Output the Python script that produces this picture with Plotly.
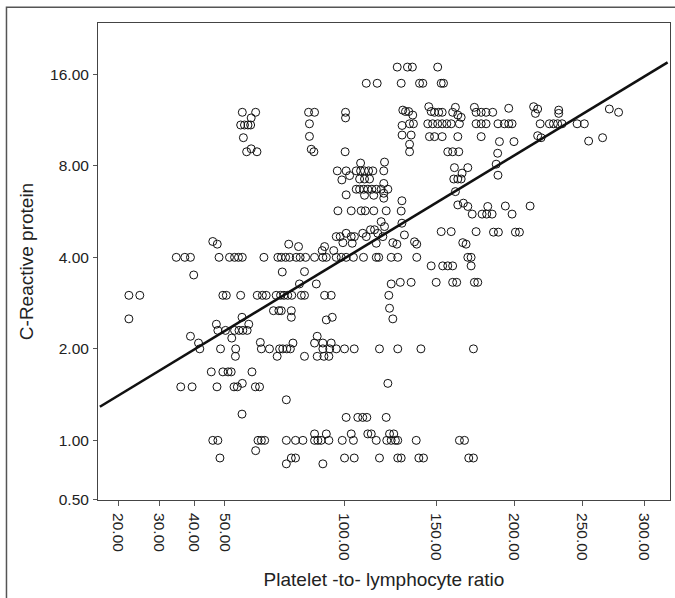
import numpy as np
import plotly.graph_objects as go

# ---- Data: platelet-to-lymphocyte ratio (x) and C-reactive protein (y) ----
plr_a = [56.3, 61.3, 59.6, 55.7, 57.1, 58.4, 59.4, 56.7, 57.9, 59.6, 61.8]
crp_a = [12.0, 12.0, 11.5, 10.9, 10.9, 10.9, 10.9, 9.9, 8.9, 9.1, 8.9]

plr_b = [83.2, 85.9, 83.6, 83.6, 84.4, 85.6, 100.5, 100.5, 100.3]
crp_b = [12.0, 12.0, 11.0, 10.0, 9.07, 8.9, 12.0, 11.5, 8.9]

plr_c = [127.4, 133.1, 135.9, 150.7, 110.9, 116.6, 129.6, 140.0, 141.9, 152.8, 154.2]
crp_c = [16.9, 16.9, 16.9, 16.9, 14.95, 14.95, 14.95, 14.95, 14.95, 14.95, 14.95]

plr_d = [130.5, 132.0, 133.8, 136.1, 145.4, 146.8, 148.8, 151.3, 153.4, 161.5,
         159.8, 163.0, 165.1, 173.5, 174.6, 177.9, 181.1, 185.5,
         196.3, 213.7, 216.6, 215.0, 232.0, 232.0, 271.2, 278.7]
crp_d = [12.2, 12.07, 12.07, 11.75, 12.52, 12.07, 12.0, 12.0, 12.0, 12.46,
         12.0, 11.75, 11.55, 12.46, 12.0, 12.0, 12.0, 12.0,
         12.37, 12.52, 12.3, 11.9, 12.2, 11.9, 12.3, 12.0]

plr_e = [130.1, 134.3, 136.5, 144.8, 147.7, 150.7, 153.4, 156.2, 158.9, 164.0,
         174.6, 177.9, 181.1, 189.0, 193.3, 196.3, 198.6,
         218.4, 225.1, 228.1, 231.2, 234.5, 245.9, 251.5]
crp_e = [10.86, 11.0, 11.0, 11.0, 11.0, 11.0, 11.0, 11.0, 11.0, 11.0,
         11.0, 11.0, 11.0, 11.0, 11.0, 11.0, 11.0,
         11.0, 11.0, 11.0, 11.0, 11.0, 11.0, 11.0]

plr_f = [130.1, 135.2, 145.8, 148.8, 153.4, 163.0, 177.9, 216.6, 219.1, 265.8,
         254.8, 190.0, 199.9, 134.3, 134.3, 156.8, 159.8, 163.6, 188.8]
crp_f = [10.1, 10.1, 9.98, 9.98, 9.98, 9.98, 9.98, 10.05, 9.9, 9.9,
         9.65, 9.61, 9.61, 9.42, 8.9, 8.9, 8.9, 8.9, 8.8]

plr_g = [160.9, 169.3, 165.7, 160.5, 163.0, 165.1, 187.8, 189.0, 108.0, 120.5,
         96.5, 100.8, 105.8, 108.0, 110.0, 112.1, 114.3, 120.1,
         98.7, 102.5, 107.5, 110.0, 112.6, 120.1]
crp_g = [7.89, 7.89, 7.57, 7.24, 7.24, 7.24, 8.1, 7.45, 8.17, 8.23,
         7.7, 7.7, 7.7, 7.7, 7.7, 7.7, 7.7, 7.7,
         7.19, 7.43, 7.24, 7.24, 7.24, 7.0]

plr_h = [105.8, 107.5, 109.6, 111.7, 113.8, 116.1, 118.7, 122.3,
         100.8, 110.0, 114.8, 120.1, 120.1, 161.5, 130.0, 129.6, 130.0,
         96.8, 103.3, 108.3, 110.4, 114.8, 121.4, 118.7, 120.5]
crp_h = [6.7, 6.7, 6.7, 6.7, 6.7, 6.7, 6.7, 6.7,
         6.42, 6.4, 6.4, 6.26, 6.5, 6.58, 6.14, 5.68, 5.18,
         5.69, 5.69, 5.69, 5.69, 5.69, 5.69, 5.24, 5.05]

plr_i = [163.0, 166.5, 169.3, 172.1, 178.5, 181.5, 185.1, 182.2, 194.0, 211.2, 198.6]
crp_i = [5.95, 6.03, 5.88, 5.55, 5.55, 5.55, 5.55, 5.88, 5.9, 5.9, 5.55]

plr_j = [96.0, 97.9, 100.8, 103.3, 104.9, 109.1, 110.9, 113.1, 115.2, 116.9,
         119.6, 131.4, 152.8, 158.9, 174.6, 186.0, 189.3, 200.9, 203.7]
crp_j = [4.68, 4.68, 4.8, 4.68, 4.68, 4.8, 4.68, 4.93, 4.93, 4.8,
         4.68, 4.74, 4.86, 4.86, 4.86, 4.84, 4.84, 4.84, 4.84]

plr_k = [74.6, 78.8, 90.5, 89.4, 94.8, 99.2, 103.8, 116.1, 125.0, 127.2,
         137.1, 138.4, 166.1, 168.2, 46.0, 47.5]
crp_k = [4.42, 4.34, 4.34, 4.21, 4.21, 4.47, 4.45, 4.45, 4.47, 4.42,
         4.5, 4.42, 4.47, 4.42, 4.51, 4.42]

plr_l = [34.7, 37.2, 38.9, 48.1, 51.7, 53.5, 54.9, 56.3, 64.5, 70.1,
         71.5, 73.3, 75.0, 77.8, 79.5, 81.9, 85.9, 89.7, 91.3, 96.0,
         98.4, 100.8, 104.4, 109.5, 116.1, 117.4, 124.1, 127.7, 138.4, 169.3,
         171.4]
crp_l = [4.0, 4.0, 4.0, 4.0, 4.0, 4.0, 4.0, 4.0, 4.0, 4.0,
         4.0, 4.0, 4.0, 4.0, 4.0, 4.0, 4.0, 4.0, 4.0, 4.0,
         4.0, 4.0, 4.0, 4.0, 4.0, 4.0, 4.0, 4.0, 4.0, 4.0,
         4.0]

plr_m = [146.8, 153.7, 156.8, 159.8, 171.4, 39.9, 71.9, 81.4, 79.2, 86.7,
         124.1, 129.1, 135.2, 149.8, 159.8, 162.3, 173.5, 175.7]
crp_m = [3.75, 3.75, 3.75, 3.75, 3.75, 3.5, 3.58, 3.59, 3.27, 3.27,
         3.27, 3.31, 3.31, 3.31, 3.31, 3.31, 3.31, 3.31]

plr_n = [22.4, 25.0, 49.4, 50.6, 55.7, 61.9, 63.9, 65.4, 69.4, 71.2,
         72.6, 74.2, 75.9, 80.0, 81.4, 90.5, 93.6, 122.8]
crp_n = [3.0, 3.0, 3.0, 3.0, 3.0, 3.0, 3.0, 3.0, 3.0, 3.0,
         3.0, 3.0, 3.0, 3.0, 3.0, 3.0, 3.0, 3.0]

plr_o = [123.2, 125.0, 22.4, 68.3, 70.5, 71.5, 75.7, 75.7, 91.3, 94.1,
         56.2, 47.2, 58.7, 47.7, 50.3, 53.5, 55.1, 56.5, 58.1, 38.9,
         52.5, 87.1]
crp_o = [2.72, 2.51, 2.51, 2.67, 2.67, 2.67, 2.67, 2.54, 2.49, 2.54,
         2.54, 2.41, 2.41, 2.3, 2.3, 2.3, 2.3, 2.3, 2.3, 2.2,
         2.17, 2.2]

plr_p = [41.4, 41.8, 48.6, 53.9, 63.1, 63.5, 66.7, 76.4, 85.9, 89.7, 93.6,
         70.8, 72.1, 73.8, 75.3, 89.7, 92.9, 96.0, 100.0, 104.8, 117.8, 127.7,
         140.8, 172.9]
crp_p = [2.09, 2.0, 2.0, 2.0, 2.1, 2.0, 2.0, 2.09, 2.09, 2.09, 2.09,
         2.0, 2.0, 2.0, 2.0, 2.0, 2.0, 2.0, 2.0, 2.0, 2.0, 2.0,
         2.0, 2.0]

plr_q = [53.8, 69.8, 81.4, 87.1, 90.2, 92.5]
crp_q = [1.89, 1.89, 1.89, 1.89, 1.89, 1.89]

plr_r = [45.5, 49.4, 51.2, 52.3, 59.9, 56.3, 36.0, 39.4, 47.4, 53.3,
         54.5, 61.2, 62.8, 122.3, 73.6, 56.2, 100.8, 106.6, 109.1, 111.2,
         121.4]
crp_r = [1.68, 1.68, 1.68, 1.68, 1.68, 1.54, 1.5, 1.5, 1.5, 1.5,
         1.5, 1.5, 1.5, 1.54, 1.36, 1.22, 1.19, 1.19, 1.19, 1.19,
         1.19]

plr_s = [85.9, 91.3, 103.3, 111.7, 113.5, 123.2, 125.5,
         46.0, 47.7, 62.2, 63.5, 64.8, 73.6, 77.5, 80.7, 85.9, 87.4,
         88.9, 92.5, 98.9, 104.4, 116.1, 121.7, 124.1, 126.4, 127.7, 138.1,
         164.0, 167.2]
crp_s = [1.05, 1.05, 1.05, 1.05, 1.05, 1.05, 1.05,
         1.0, 1.0, 1.0, 1.0, 1.0, 1.0, 1.0, 1.0, 1.0, 1.0,
         1.0, 1.0, 1.0, 1.0, 1.0, 1.0, 1.0, 1.0, 1.0, 1.0,
         1.0, 1.0]

plr_t = [61.3, 48.4, 75.7, 77.5, 100.0, 104.8, 117.8, 127.7, 129.6, 139.6,
         142.3, 169.9, 172.9, 73.6, 89.7]
crp_t = [0.925, 0.875, 0.875, 0.875, 0.875, 0.875, 0.875, 0.875, 0.875, 0.875,
         0.875, 0.875, 0.875, 0.837, 0.837]

plr = (plr_a + plr_b + plr_c + plr_d + plr_e + plr_f + plr_g + plr_h + plr_i +
       plr_j + plr_k + plr_l + plr_m + plr_n + plr_o + plr_p + plr_q + plr_r +
       plr_s + plr_t)
crp = (crp_a + crp_b + crp_c + crp_d + crp_e + crp_f + crp_g + crp_h + crp_i +
       crp_j + crp_k + crp_l + crp_m + crp_n + crp_o + crp_p + crp_q + crp_r +
       crp_s + crp_t)
assert len(plr) == len(crp)

# fitted regression line at its two ends
fit_plr = [16.2, 320.1]
fit_crp = [1.29, 17.5]

# axis ticks (x axis is on a square-root scale, y axis on a log scale)
x_tick_values = [20, 30, 40, 50, 100, 150, 200, 250, 300]
x_tick_labels = ["20.00", "30.00", "40.00", "50.00", "100.00", "150.00",
                 "200.00", "250.00", "300.00"]
x_limits = [15.83, 322.2]
y_tick_values = [0.638, 1, 2, 4, 8, 16]
y_tick_labels = ["0.50", "1.00", "2.00", "4.00", "8.00", "16.00"]
y_limits = [0.638, 23.6]

# ---- square-root transform for the x scale ----
sx = np.sqrt(np.array(plr))
fit_sx = np.sqrt(np.array(fit_plr))

fig = go.Figure()
fig.add_trace(go.Scatter(
    x=sx, y=crp, mode="markers",
    marker=dict(symbol="circle-open", size=8, color="#111111",
                line=dict(width=1, color="#111111")),
    showlegend=False, hoverinfo="skip"))
fig.add_trace(go.Scatter(
    x=fit_sx, y=fit_crp, mode="lines",
    line=dict(color="#111111", width=2.6),
    showlegend=False, hoverinfo="skip"))

tick_font = dict(family="Liberation Sans, Arial, sans-serif", size=15.5, color="#222222")
title_font = dict(family="Liberation Sans, Arial, sans-serif", size=19, color="#222222")

fig.update_xaxes(
    range=[float(np.sqrt(x_limits[0])), float(np.sqrt(x_limits[1]))],
    tickmode="array",
    tickvals=[float(np.sqrt(v)) for v in x_tick_values],
    ticktext=x_tick_labels,
    tickangle=90,
    ticks="outside", ticklen=5, tickcolor="#555555", tickwidth=1,
    tickfont=tick_font, ticklabelstandoff=4,
    showgrid=False, zeroline=False,
    showline=True, mirror=True, linecolor="#444444", linewidth=1,
    title=dict(text="Platelet -to- lymphocyte ratio", font=title_font, standoff=12),
)
fig.update_yaxes(
    type="log",
    range=[float(np.log10(y_limits[0])) - 0.001, float(np.log10(y_limits[1]))],
    tickmode="array",
    tickvals=y_tick_values,
    ticktext=y_tick_labels,
    ticks="outside", ticklen=4, tickcolor="#555555", tickwidth=1,
    tickfont=tick_font, ticklabelstandoff=1,
    showgrid=False, zeroline=False,
    showline=True, mirror=True, linecolor="#444444", linewidth=1,
    title=dict(text="C-Reactive protein", font=title_font, standoff=11),
)

# outer frame of the figure panel
fig.add_shape(type="rect", xref="paper", yref="paper",
              x0=-0.16, x1=1.02, y0=-0.25, y1=1.0329,
              line=dict(color="#555555", width=1.5), fillcolor="rgba(0,0,0,0)",
              layer="below")

fig.update_layout(
    width=675, height=598,
    margin=dict(l=98, r=5, t=23, b=98),
    paper_bgcolor="white", plot_bgcolor="white",
)

fig.write_html("out.html", config={"displayModeBar": False},
               post_script="document.body.style.margin='0px';")
